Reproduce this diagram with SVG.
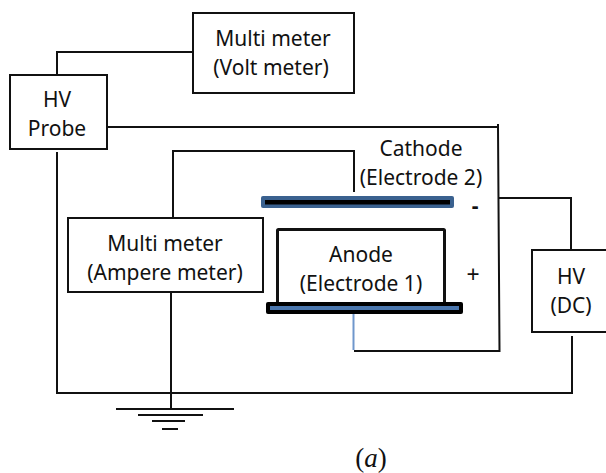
<svg xmlns="http://www.w3.org/2000/svg" width="606" height="473" viewBox="0 0 606 473">
<style>
.w{fill:none;stroke:#111;stroke-width:2}
.b{fill:#fff;stroke:#111;stroke-width:2}
text{font-family:"Noto Sans","Open Sans",sans-serif;font-size:21px;fill:#111;text-anchor:middle}
</style>
<rect width="606" height="473" fill="#fff"/>
<g id="connectors">
<path class="w" d="M57 75V52H193"/>
<path class="w" d="M107 127H498V124"/>
<path class="w" d="M498 127L499.500 351H354"/>
<path class="w" d="M498 198H571V250"/>
<path class="w" d="M57 152V393H572L572 336"/>
<path class="w" d="M173 218V151H354V192"/>
<path class="w" d="M171 292V409"/>
<path d="M353.500 311V350" fill="none" stroke="#6f97cc" stroke-width="2"/>
</g>
<g id="volt-meter"><rect class="b" x="193" y="13" width="161" height="80"/><text x="273" y="46">Multi meter</text><text x="271" y="75">(Volt meter)</text></g>
<g id="hv-probe"><rect class="b" x="10" y="75" width="97" height="74"/><text x="57" y="107">HV</text><text x="57" y="136">Probe</text></g>
<g id="ampere-meter"><rect class="b" x="68" y="218" width="195" height="74"/><text x="165" y="251">Multi meter</text><text x="165" y="280">(Ampere meter)</text></g>
<g id="cathode"><rect x="261" y="196" width="193" height="12" rx="2" fill="#3a618f"/><rect x="265" y="200" width="185" height="4.500" fill="#000"/><text x="421" y="156">Cathode</text><text x="421" y="185">(Electrode 2)</text><text x="475" y="213" style="font-weight:700">-</text></g>
<g id="anode"><rect x="277.500" y="229.500" width="167" height="74" rx="1" fill="#fff" stroke="#111" stroke-width="3"/><rect x="266" y="302" width="197" height="12" rx="2" fill="#000"/><rect x="270" y="306" width="189" height="4" fill="#4a76ad"/><text x="361" y="262">Anode</text><text x="361" y="291">(Electrode 1)</text><text x="473" y="283" style="font-size:23px">+</text></g>
<g id="hv-dc"><rect class="b" x="532" y="250" width="76" height="82"/><text x="571" y="284">HV</text><text x="571" y="313">(DC)</text></g>
<g id="ground" stroke="#111" stroke-width="2"><path d="M116 409H234"/><path d="M138 415H203"/><path d="M152 421H185"/><path d="M162 429H178"/></g>
<text x="371" y="467" style="font-family:'Liberation Serif',serif;font-size:27px">(<tspan font-style="italic">a</tspan>)</text>
</svg>
